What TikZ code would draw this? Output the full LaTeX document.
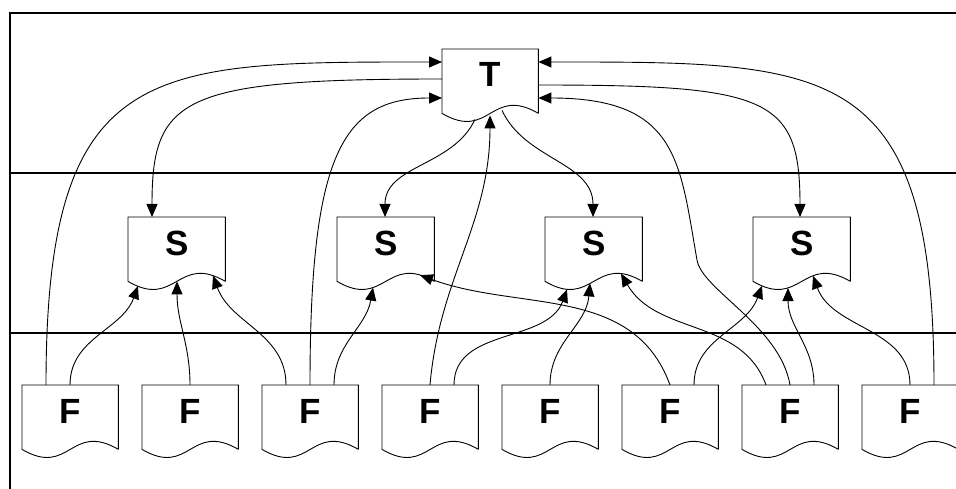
\documentclass[tikz,border=0pt]{standalone}
\usepackage{fontspec}
\setmainfont{Liberation Sans}
\usetikzlibrary{arrows.meta,calc}
\begin{document}
\begin{tikzpicture}[x=1pt,y=-1pt,
  doc/.style={anchor=north west, minimum width=96pt, inner sep=0pt,
    text height=37.8pt, text depth=26.2pt,
    font=\fontsize{35}{40}\selectfont\bfseries},
  link/.style={line width=0.9pt, -{Triangle[length=13pt,width=11pt]}},
  lane/.style={line width=2pt},
  outline/.style={line width=0.9pt}]
\useasboundingbox (0,0) rectangle (956,489);
% swimlane rules
\draw[lane] (10,489) -- (10,13) -- (956,13);
\draw[lane] (10,173) -- (956,173);
\draw[lane] (10,333) -- (956,333);
% document nodes
\node[doc] (T) at (442,49) {T};
\foreach \i/\x in {1/128,2/337,3/545,4/753}
  \node[doc, minimum width=97pt] (S\i) at (\x,217) {S};
\foreach \i in {1,...,8}
  \node[doc] (F\i) at ({22+120*(\i-1)},385) {F};
% document outlines with wavy bottom edge
\foreach \n in {T,S1,S2,S3,S4,F1,F2,F3,F4,F5,F6,F7,F8}
  \draw[outline] (\n.south east) -- (\n.north east) -- (\n.north west) -- (\n.south west)
    .. controls +(48,28) and +(-48,-28) .. (\n.south east);
% links into T
\draw[link] ($(F1.north west)+(24,0)$) to[out=90,in=180,out distance=325pt,in distance=292pt] ($(T.north west)+(0,13)$);
\draw[link] ($(F8.north west)+(72,0)$) to[out=90,in=0,out distance=325pt,in distance=292pt] ($(T.north east)+(0,13)$);
\draw[link] ($(F3.north west)+(48,0)$) to[out=90,in=180,out distance=230pt,in distance=100pt] ($(T.north west)+(0,49)$);
\draw[link] ($(F7.north west)+(48,0)$)
  .. controls +(-10,-59) and +(5,30) .. ($(F7.north west)+(-45,-125)$)
  to[out=100,in=0,out distance=100pt,in distance=140pt] ($(T.north east)+(0,49)$);
\draw[link] ($(F4.north west)+(48,0)$) to[out=85,in=-90] ($(T.south west)+(48,2)$);
% links out of T
\draw[link] ($(T.north west)+(0,30)$) to[out=180,in=90,out distance=260pt,in distance=120pt] ($(S1.north west)+(24,0)$);
\draw[link] ($(T.north east)+(0,36)$) to[out=0,in=90,out distance=230pt,in distance=120pt] ($(S4.north west)+(47,0)$);
\draw[link] ($(T.south west)+(33,6)$) to[out=-115,in=90] ($(S2.north west)+(48,0)$);
\draw[link] ($(T.south west)+(60,-3)$) to[out=-65,in=90] ($(S3.north west)+(48,0)$);
% links from F row into S row
\draw[link] ($(F1.north west)+(48,0)$) to[out=90,in=-110] ($(S1.south west)+(10,4.6)$);
\draw[link] ($(F2.north west)+(48,0)$) to[out=90,in=-90] ($(S1.south west)+(49,0)$);
\draw[link] ($(F3.north west)+(24,0)$) to[out=90,in=-70] ($(S1.south west)+(85,-5.8)$);
\draw[link] ($(F3.north west)+(72,0)$) to[out=90,in=-100] ($(S2.south west)+(36,6.2)$);
\draw[link] ($(F6.north west)+(48,0)$) to[out=110,in=-20] ($(S2.south west)+(83,-6.2)$);
\draw[link] ($(F4.north west)+(72,0)$) to[out=90,in=-110] ($(S3.south west)+(22,8)$);
\draw[link] ($(F5.north west)+(48,0)$) to[out=90,in=-95] ($(S3.south west)+(45,2)$);
\draw[link] ($(F7.north west)+(24,0)$) to[out=110,in=-60] ($(S3.south west)+(76,-7.8)$);
\draw[link] ($(F6.north west)+(72,0)$) to[out=90,in=-110] ($(S4.south west)+(9,4.3)$);
\draw[link] ($(F7.north west)+(72,0)$) to[out=90,in=-90] ($(S4.south west)+(35,6.6)$);
\draw[link] ($(F8.north west)+(48,0)$) to[out=90,in=-70] ($(S4.south west)+(60,-5.6)$);
\end{tikzpicture}
\end{document}
